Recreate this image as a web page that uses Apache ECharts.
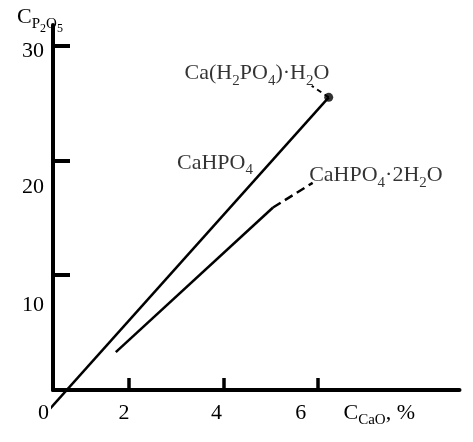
<!DOCTYPE html>
<html>
<head>
<meta charset="utf-8">
<script src="https://cdn.jsdelivr.net/npm/echarts@6/dist/echarts.min.js"></script>
<style>
html, body { margin: 0; padding: 0; background: #fff; }
#chart { width: 473px; height: 442px; }
</style>
</head>
<body>
<div id="chart"></div>
<script>
// axis ticks / labels
const xTicks = [2, 4, 6]
const yTicks = [10, 20, 30]
const yLabels = [0, 10, 20, 30]

// CaHPO4 line, ends at the Ca(H2PO4)·H2O point
const monoLine = [[0.29, -1.8], [6.23, 25.5]]
const monoPoint = [[6.23, 25.5]]
const monoLeader = [[6.23, 25.5], [5.87, 26.5]]
// CaHPO4·2H2O line
const dihydLine = [[1.72, 3.3], [5.05, 15.9]]
const dihydLeader = [[5.05, 15.9], [5.89, 18.05]]

// phase names and where they sit
const phaseNames = ['Ca(H2PO4)·H2O', 'CaHPO4', 'CaHPO4·2H2O']
const phaseAt = [[4.71, 27.6], [3.82, 19.8], [7.23, 18.7]]

const serif = '"Liberation Serif", "DejaVu Serif", serif'

// label nudges (px), the scan has them off the ticks
const yShift = { 0: 23, 10: 30, 20: 27, 30: 6 }
const xShift = { 2: 5, 4: 7, 6: 17 }

const rich = {
  m: { fontFamily: serif, fontSize: 22, lineHeight: 22, verticalAlign: 'top', color: '#000' },
  s: { fontFamily: serif, fontSize: 15, lineHeight: 15, verticalAlign: 'top', color: '#000', padding: [11, 0, 0, 0] },
  ss: { fontFamily: serif, fontSize: 12, lineHeight: 12, verticalAlign: 'top', color: '#000', padding: [17, 0, 0, 0] }
}

// digits after a letter or ")" go down as subscripts
function chem(t) {
  let out = ''
  let cur = ''
  let mode = 'm'
  for (let i = 0; i < t.length; i++) {
    const c = t[i]
    const sub = /\d/.test(c) && i > 0 && /[A-Za-z)]/.test(t[i - 1])
    const want = sub ? 's' : 'm'
    if (want !== mode && cur) {
      out += '{' + mode + '|' + cur + '}'
      cur = ''
    }
    mode = want
    cur += c
  }
  if (cur) out += '{' + mode + '|' + cur + '}'
  return out
}

const yRich = Object.assign({}, rich)
yLabels.forEach(v => {
  yRich['y' + v] = Object.assign({}, rich.m, {
    padding: [yShift[v], v === 0 ? 0 : 5, 0, 0]
  })
})
const xRich = Object.assign({}, rich)
xTicks.forEach(v => {
  xRich['x' + v] = Object.assign({}, rich.m, { padding: [0, xShift[v] * 2, 0, 0] })
})

const chart = echarts.init(document.getElementById('chart'))
chart.setOption({
  animation: false,
  backgroundColor: '#fff',
  grid: { left: 53, right: 13.5, top: 25, bottom: 52, containLabel: false, outerBoundsMode: 'none' },
  xAxis: {
    type: 'value',
    min: 0.39,
    max: 9,
    splitLine: { show: false },
    axisLine: { lineStyle: { color: '#000', width: 4 } },
    axisTick: { inside: true, length: 12, customValues: xTicks, lineStyle: { color: '#000', width: 3.5 } },
    axisLabel: { margin: 12, customValues: xTicks, formatter: v => '{x' + v + '|' + v + '}', rich: xRich },
    name: '{m|C}{s|CaO}{m|, %}',
    nameLocation: 'middle',
    nameGap: 12,
    nameMoveOverlap: false,
    nameTextStyle: { rich: rich, padding: [0, 0, 0, 246] }
  },
  yAxis: {
    type: 'value',
    min: 0,
    max: 31.8,
    splitLine: { show: false },
    axisLine: { lineStyle: { color: '#000', width: 4 } },
    axisTick: { inside: true, length: 17, customValues: yTicks, lineStyle: { color: '#000', width: 4 } },
    axisLabel: { margin: 4, customValues: yLabels, formatter: v => '{y' + v + '|' + v + '}', rich: yRich },
    name: '{m|C}{s|P}{ss|2}{s|O}{ss|5}',
    nameLocation: 'end',
    nameGap: -3,
    nameMoveOverlap: false,
    nameTextStyle: { rich: rich, padding: [0, 26, 0, 0] }
  },
  series: [
    {
      type: 'line', data: monoLine, clip: false, symbol: 'none', silent: true,
      lineStyle: { color: '#000', width: 2.5 }
    },
    {
      type: 'line', data: monoLeader, clip: false, symbol: 'none', silent: true,
      lineStyle: { color: '#000', width: 2, type: [5, 4] }
    },
    {
      type: 'scatter', data: monoPoint, symbol: 'circle', symbolSize: 9, silent: true,
      itemStyle: { color: '#000' }
    },
    {
      type: 'line', data: dihydLine, clip: false, symbol: 'none', silent: true,
      lineStyle: { color: '#000', width: 2.5 }
    },
    {
      type: 'line', data: dihydLeader, clip: false, symbol: 'none', silent: true,
      lineStyle: { color: '#000', width: 2.5, type: [9, 5] }
    },
    {
      type: 'scatter', symbolSize: 0, silent: true,
      data: phaseAt.map((p, i) => [p[0], p[1], phaseNames[i]]),
      label: {
        show: true, position: 'inside',
        formatter: p => chem(p.value[2]),
        rich: rich
      }
    }
  ]
})
</script>
</body>
</html>
